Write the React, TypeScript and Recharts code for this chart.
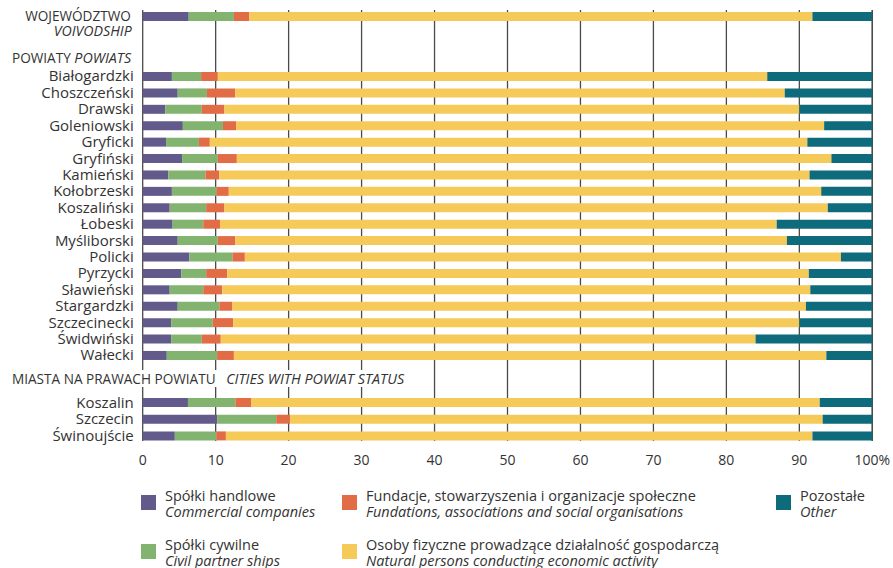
import React from 'react';
import { BarChart, Bar, XAxis, YAxis, CartesianGrid } from 'recharts';

const voivodshipNames = ['WOJEWÓDZTWO'];
const powiatNames = [
  'Białogardzki', 'Choszczeński', 'Drawski', 'Goleniowski', 'Gryficki', 'Gryfiński',
  'Kamieński', 'Kołobrzeski', 'Koszaliński', 'Łobeski', 'Myśliborski', 'Policki',
  'Pyrzycki', 'Sławieński', 'Stargardzki', 'Szczecinecki', 'Świdwiński', 'Wałecki',
];
const cityNames = ['Koszalin', 'Szczecin', 'Świnoujście'];

// shares in %, order: voivodship, powiats, cities
const commercial = [6.3, 4.0, 4.8, 3.1, 5.5, 3.2, 5.4, 3.5, 4.0, 3.7, 4.1, 4.8, 6.4, 5.3, 3.7, 4.8, 3.9, 3.9, 3.3, 6.2, 10.2, 4.4];
const civil = [6.2, 4.0, 4.0, 5.0, 5.5, 4.5, 4.9, 5.1, 6.1, 5.0, 4.2, 5.5, 5.9, 3.4, 4.6, 5.7, 5.7, 4.2, 6.9, 6.5, 8.1, 5.7];
const foundations = [2.1, 2.3, 3.9, 3.1, 1.8, 1.5, 2.6, 1.9, 1.7, 2.5, 2.3, 2.4, 1.7, 2.9, 2.6, 1.8, 2.8, 2.6, 2.3, 2.2, 1.9, 1.3];
const persons = [77.2, 75.3, 75.3, 78.8, 80.6, 81.9, 81.5, 80.9, 81.2, 82.7, 76.3, 75.6, 81.7, 79.7, 80.6, 78.6, 77.6, 73.3, 81.2, 77.9, 73.0, 80.4];
const other = [8.2, 14.4, 12.0, 10.0, 6.6, 8.9, 5.6, 8.6, 7.0, 6.1, 13.1, 11.7, 4.3, 8.7, 8.5, 9.1, 10.0, 16.0, 6.3, 7.2, 6.8, 8.2];

const xTicks = [0, 10, 20, 30, 40, 50, 60, 70, 80, 90, 100];

const series = [
  { key: 'commercial', color: '#615a8b', pl: 'Spółki handlowe', en: 'Commercial companies' },
  { key: 'civil', color: '#82b36f', pl: 'Spółki cywilne', en: 'Civil partner ships' },
  { key: 'foundations', color: '#e16c46', pl: 'Fundacje, stowarzyszenia i organizacje społeczne', en: 'Fundations, associations and social organisations' },
  { key: 'persons', color: '#f5ca58', pl: 'Osoby fizyczne prowadzące działalność gospodarczą', en: 'Natural persons conducting economic activity' },
  { key: 'other', color: '#0d6b7c', pl: 'Pozostałe', en: 'Other' },
];

const allNames = [...voivodshipNames, ...powiatNames, ...cityNames];
const rows = allNames.map((name, i) => ({
  name,
  commercial: commercial[i],
  civil: civil[i],
  foundations: foundations[i],
  persons: persons[i],
  other: other[i],
  total: commercial[i] + civil[i] + foundations[i] + persons[i] + other[i],
}));
const voivodshipRows = rows.slice(0, 1);
const powiatRows = rows.slice(1, 1 + powiatNames.length);
const cityRows = rows.slice(1 + powiatNames.length);

const FONT = '"Open Sans", sans-serif';
const TEXT = '#333';
const W = 893;
const LEFT = 142.7;
const RIGHT = W - 872.3;
const PAD = 20;

const LabelTick = (props: any) => {
  const { x, y, payload } = props;
  if (payload.value === 'WOJEWÓDZTWO') {
    return (
      <text x={x - 3} y={y} textAnchor="end" fill={TEXT} fontFamily={FONT}>
        <tspan x={x - 3} dy="0.35em" fontSize={13.6}>WOJEWÓDZTWO</tspan>
        <tspan x={x - 2} dy={15} fontSize={14.2} fontStyle="italic">VOIVODSHIP</tspan>
      </text>
    );
  }
  return (
    <text x={x} y={y} dy="0.35em" textAnchor="end" fill={TEXT} fontFamily={FONT} fontSize={15}>
      {payload.value}
    </text>
  );
};

function Group({ data, top, band }: { data: any[]; top: number; band: number }) {
  const plotH = data.length * band;
  return (
    <div style={{ position: 'absolute', left: 0, top: top - PAD }}>
      <BarChart
        width={W}
        height={plotH + 2 * PAD}
        data={data}
        layout="vertical"
        margin={{ top: PAD, bottom: PAD, left: 0, right: RIGHT }}
      >
        <XAxis type="number" domain={[0, 100]} hide />
        <YAxis
          type="category"
          dataKey="name"
          width={LEFT}
          axisLine={false}
          tickLine={false}
          tickSize={0}
          tickMargin={9}
          interval={0}
          tick={<LabelTick />}
        />
        {series.map((s) => (
          <Bar key={s.key} dataKey={s.key} stackId="a" fill={s.color} barSize={9} isAnimationActive={false} />
        ))}
      </BarChart>
    </div>
  );
}

const LegendItem = ({ s, left, top }: { s: (typeof series)[number]; left: number; top: number }) => (
  <div style={{ position: 'absolute', left, top, display: 'flex', alignItems: 'flex-start' }}>
    <div style={{ width: 15, height: 15, background: s.color, marginTop: 7, marginRight: 9 }} />
    <div style={{ fontFamily: FONT, fontSize: 14.5, lineHeight: '16px', color: TEXT, whiteSpace: 'nowrap' }}>
      <div>{s.pl}</div>
      <div style={{ fontStyle: 'italic' }}>{s.en}</div>
    </div>
  </div>
);

export default function App() {
  return (
    <div style={{ position: 'absolute', left: 0, top: 0, width: W, height: 568, background: '#fff', overflow: 'hidden' }}>
      <div style={{ position: 'absolute', left: 0, top: 0 }}>
        <BarChart
          width={W}
          height={480}
          data={rows}
          layout="vertical"
          margin={{ top: 10, right: RIGHT, bottom: 9, left: 0 }}
        >
          <CartesianGrid horizontal={false} stroke="#4a4a4a" strokeWidth={1.3} />
          <XAxis
            type="number"
            domain={[0, 100]}
            ticks={xTicks}
            interval={0}
            height={30}
            axisLine={false}
            tickLine={false}
            tickMargin={8}
            tickFormatter={(v: number) => (v === 100 ? '100%' : String(v))}
            tick={{ fill: TEXT, fontSize: 14, fontFamily: FONT }}
          />
          <YAxis type="category" dataKey="name" width={LEFT} tick={false} axisLine={false} tickLine={false} />
          <Bar dataKey="total" fill="none" isAnimationActive={false} />
        </BarChart>
      </div>

      <div
        style={{
          position: 'absolute', left: 12, top: 49, fontFamily: FONT, fontSize: 13.6, color: TEXT, lineHeight: '17px',
        }}
      >
        POWIATY <i style={{ fontSize: 14.3 }}>POWIATS</i>
      </div>
      <div
        style={{
          position: 'absolute', left: 0, top: 370, paddingLeft: 12, paddingRight: 8, fontFamily: FONT, fontSize: 13.6,
          color: TEXT, lineHeight: '17px', background: '#fff', whiteSpace: 'pre',
        }}
      >
        MIASTA NA PRAWACH POWIATU   <i style={{ fontSize: 14.3 }}>CITIES WITH POWIAT STATUS</i>
      </div>

      <Group data={voivodshipRows} top={8} band={16.4} />
      <Group data={powiatRows} top={67.8} band={16.41} />
      <Group data={cityRows} top={394.4} band={16.7} />

      <LegendItem s={series[0]} left={141} top={488} />
      <LegendItem s={series[2]} left={342} top={488} />
      <LegendItem s={series[4]} left={776} top={488} />
      <LegendItem s={series[1]} left={141} top={537} />
      <LegendItem s={series[3]} left={342} top={537} />
    </div>
  );
}
